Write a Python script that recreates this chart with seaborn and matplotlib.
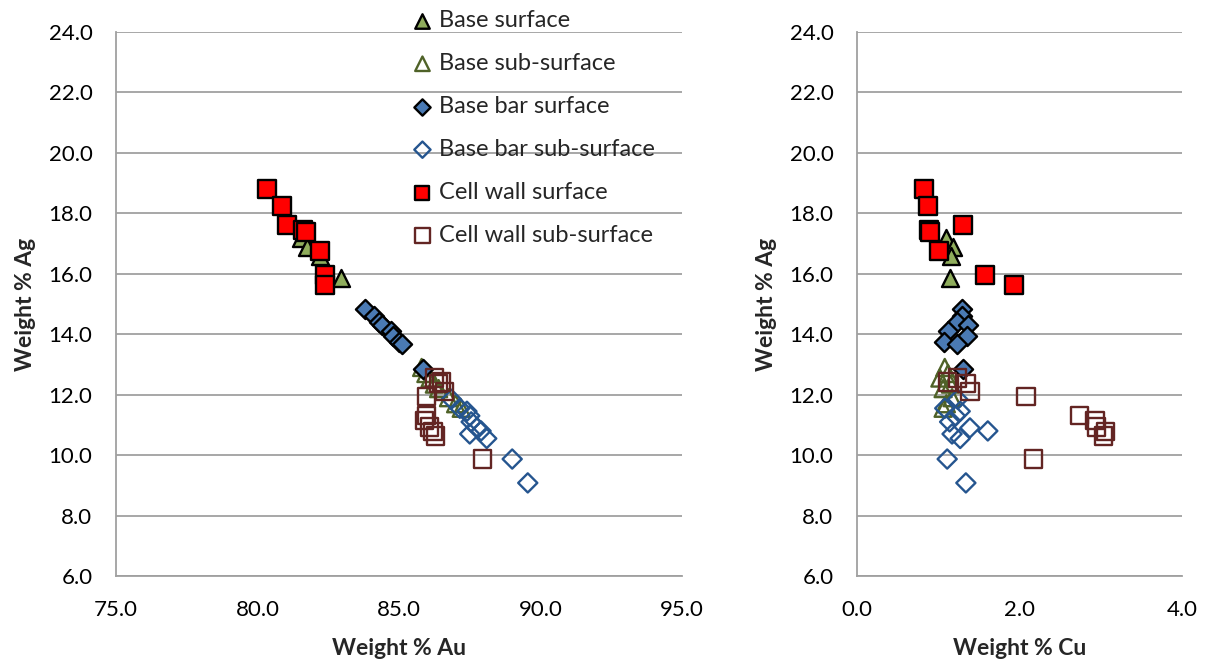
import numpy as np
import pandas as pd
import seaborn as sns
import matplotlib
matplotlib.use("Agg")
import matplotlib.pyplot as plt

# group order = legend / drawing order
groups = ["Base surface", "Base sub-surface", "Base bar surface",
          "Base bar sub-surface", "Cell wall surface", "Cell wall sub-surface"]

# Base surface
bs_au = [81.55, 81.75, 82.2, 82.95]
bs_cu = [1.10, 1.18, 1.16, 1.14]
bs_ag = [17.2, 16.9, 16.6, 15.87]

# Base sub-surface
bss_au = [85.8, 85.95, 86.1, 86.25, 86.4, 86.75, 87.0, 87.2]
bss_cu = [1.08, 1.12, 1.02, 1.15, 1.06, 1.17, 1.10, 1.06]
bss_ag = [12.9, 12.7, 12.55, 12.35, 12.2, 11.9, 11.7, 11.55]

# Base bar surface
bb_au = [83.8, 84.1, 84.3, 84.4, 84.7, 84.8, 85.0, 85.1, 85.85]
bb_cu = [1.29, 1.29, 1.23, 1.37, 1.12, 1.35, 1.07, 1.23, 1.30]
bb_ag = [14.85, 14.6, 14.4, 14.3, 14.1, 13.95, 13.75, 13.68, 12.85]

# Base bar sub-surface
bbs_au = [86.85, 87.15, 87.4, 87.5, 87.55, 87.75, 87.9, 87.5, 88.1, 89.0, 89.55]
bbs_cu = [1.24, 1.08, 1.27, 1.21, 1.14, 1.39, 1.61, 1.17, 1.27, 1.11, 1.34]
bbs_ag = [11.85, 11.55, 11.45, 11.3, 11.1, 10.9, 10.8, 10.7, 10.55, 9.87, 9.08]

# Cell wall surface
cw_au = [80.35, 80.85, 81.05, 81.6, 81.7, 82.2, 82.4, 82.4]
cw_cu = [0.82, 0.87, 1.30, 0.88, 0.90, 1.01, 1.58, 1.93]
cw_ag = [18.8, 18.25, 17.62, 17.45, 17.38, 16.75, 15.97, 15.62]

# Cell wall sub-surface
cws_au = [86.25, 86.5, 86.4, 86.6, 85.97, 85.97, 85.9, 86.08, 86.2, 86.3, 87.95]
cws_cu = [1.24, 1.11, 1.35, 1.39, 2.08, 2.74, 2.93, 2.95, 3.06, 3.03, 2.17]
cws_ag = [12.55, 12.42, 12.38, 12.1, 11.93, 11.3, 11.15, 10.93, 10.78, 10.63, 9.87]

df = pd.concat([
    pd.DataFrame({"group": g, "Au": au, "Cu": cu, "Ag": ag})
    for g, au, cu, ag in zip(
        groups,
        [bs_au, bss_au, bb_au, bbs_au, cw_au, cws_au],
        [bs_cu, bss_cu, bb_cu, bbs_cu, cw_cu, cws_cu],
        [bs_ag, bss_ag, bb_ag, bbs_ag, cw_ag, cws_ag])
], ignore_index=True)

styles = {
    "Base surface": dict(marker="^", s=150, facecolor="#8FAD5C", edgecolor="black", linewidth=1.7),
    "Base sub-surface": dict(marker="^", s=150, facecolor="none", edgecolor="#4F6228", linewidth=1.7),
    "Base bar surface": dict(marker="D", s=95, facecolor="#4A7AB4", edgecolor="black", linewidth=1.7),
    "Base bar sub-surface": dict(marker="D", s=95, facecolor="none", edgecolor="#25558F", linewidth=1.7),
    "Cell wall surface": dict(marker="s", s=155, facecolor="#FF0000", edgecolor="black", linewidth=1.7),
    "Cell wall sub-surface": dict(marker="s", s=155, facecolor="none", edgecolor="#632523", linewidth=1.7),
}

sns.set_style("white")
plt.rcParams["font.family"] = ["Lato", "DejaVu Sans"]

fig = plt.figure(figsize=(12.1, 6.68), dpi=100)
ax1 = fig.add_axes([116 / 1210, 92 / 668, 566 / 1210, 544 / 668])
ax2 = fig.add_axes([857 / 1210, 92 / 668, 325 / 1210, 544 / 668])

grid_c = "#A0A0A0"
for ax, xcol, xlim, xticks, xlab in [
        (ax1, "Au", (75, 95), [75, 80, 85, 90, 95], "Weight % Au"),
        (ax2, "Cu", (0, 4), [0, 2, 4], "Weight % Cu")]:
    for g in groups:
        sub = df[df["group"] == g]
        sns.scatterplot(x=sub[xcol].values, y=sub["Ag"].values, ax=ax, label=g,
                        legend=False, zorder=3, **styles[g])
    ax.set_xlim(*xlim)
    ax.set_ylim(6, 24)
    ax.set_xticks(xticks)
    ax.set_yticks(np.arange(6, 25, 2))
    ax.set_xticklabels([f"{v:.1f}" for v in xticks])
    ax.set_yticklabels([f"{v:.1f}" for v in np.arange(6, 25, 2)])
    ax.yaxis.grid(True, color=grid_c, linewidth=1.3)
    ax.xaxis.grid(False)
    ax.set_axisbelow(True)
    for sp in ["top", "right"]:
        ax.spines[sp].set_visible(False)
    for sp in ["left", "bottom"]:
        ax.spines[sp].set_color(grid_c)
        ax.spines[sp].set_linewidth(1.3)
    ax.tick_params(axis="both", direction="out", length=6, width=1.3, color=grid_c,
                   labelsize=16, labelcolor="black")
    ax.tick_params(axis="y", pad=11)
    ax.tick_params(axis="x", pad=11)
    ax.set_xlabel(xlab, fontsize=16.5, fontweight="bold", labelpad=13)
    ax.set_ylabel("Weight % Ag", fontsize=16.5, fontweight="bold", labelpad=9)

handles, labels = ax1.get_legend_handles_labels()
fig.legend(handles, labels, loc="upper left", bbox_to_anchor=(413 / 1210, 1 - 10 / 668),
           frameon=False, fontsize=17, labelspacing=0.93, handlelength=0.8,
           handletextpad=0.3, borderpad=0, borderaxespad=0, markerscale=0.85)

fig.savefig("out.png", dpi=100)
